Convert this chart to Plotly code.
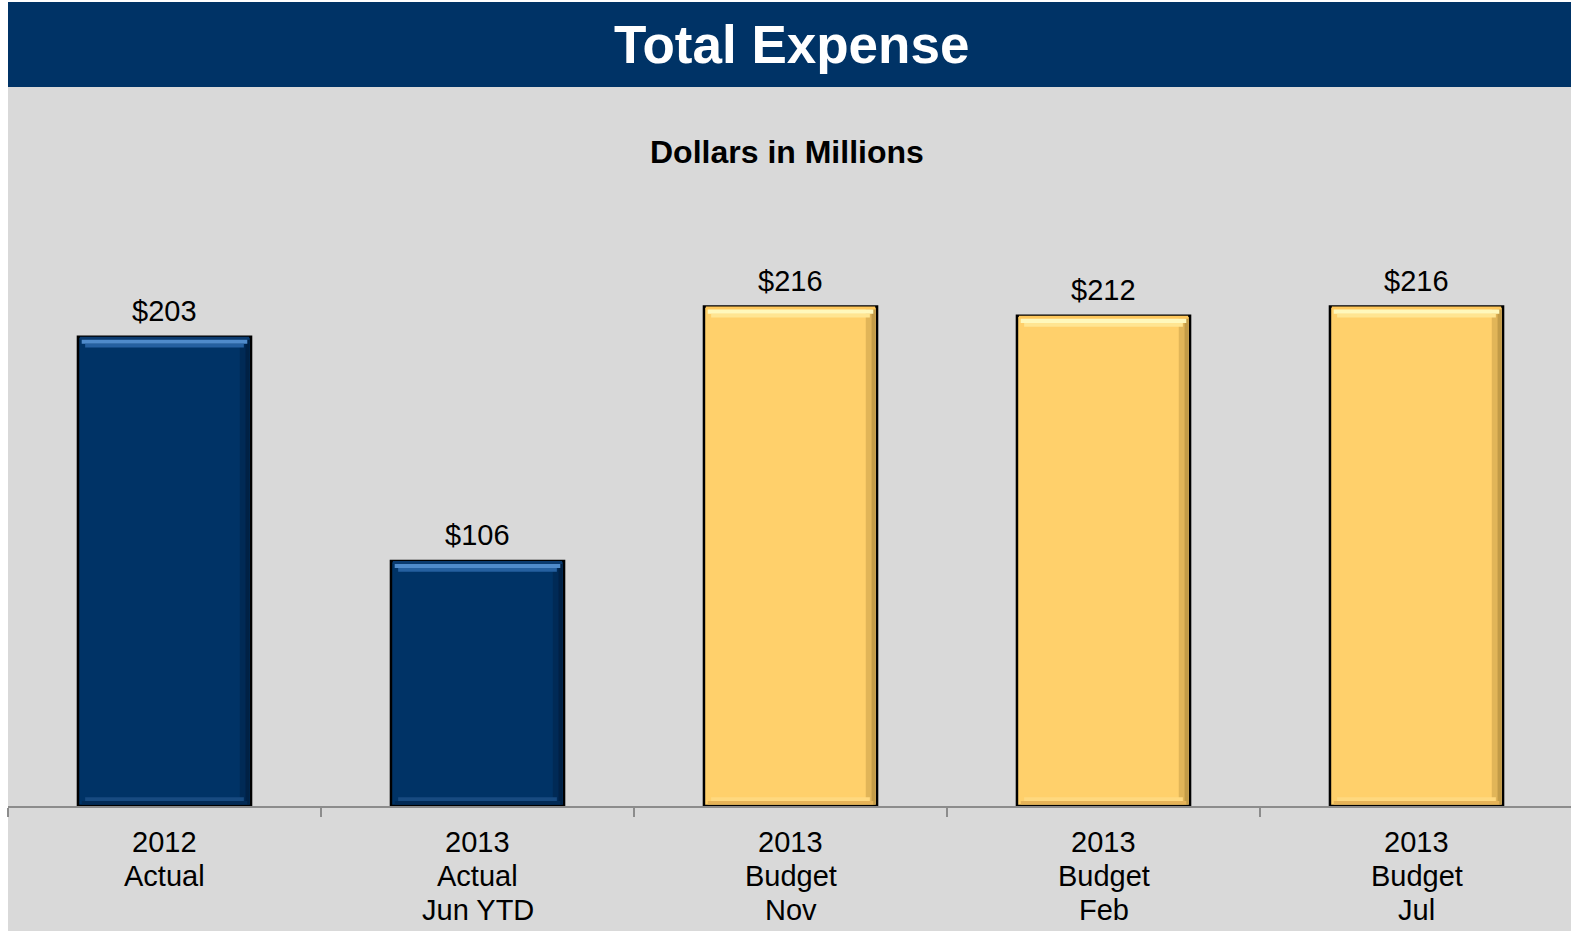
import plotly.graph_objects as go

# ---- data -------------------------------------------------------------
category_ids = ["2012 Actual", "2013 Actual Jun YTD", "2013 Budget Nov",
                "2013 Budget Feb", "2013 Budget Jul"]
label_lines = [
    ["2012", "Actual"],
    ["2013", "Actual", "Jun YTD"],
    ["2013", "Budget", "Nov"],
    ["2013", "Budget", "Feb"],
    ["2013", "Budget", "Jul"],
]
expense = [203, 106, 216, 212, 216]
kind = ["Actual", "Actual", "Budget", "Budget", "Budget"]

# ---- styling ----------------------------------------------------------
NAVY = "#003366"
PANEL = "#D9D9D9"
palette = {
    "Actual": {"fill": "#003366", "rim": "#0A3A6E", "hi": "#4F8BCB", "mid": "#2560A0",
               "low": "#174A80", "lowdark": "#022A55", "side": "#001A38"},
    "Budget": {"fill": "#FFD06B", "rim": "#FFC85C", "hi": "#FFF8BC", "mid": "#FFE592",
               "low": "#FFD97F", "lowdark": "#E6B358", "side": "#A88437"},
}


def colors(key):
    return [palette[k][key] for k in kind]


BAR_W = 0.553
INNER_W = BAR_W - 0.012
Y_MAX = 250
PLOT_TOP, PLOT_BOTTOM, FIG_H, FIG_W = 228, 806, 931, 1571
FONT = "Liberation Sans, Arial"


def py(px):
    """Pixel row -> paper y coordinate."""
    return (PLOT_BOTTOM - px) / (PLOT_BOTTOM - PLOT_TOP)


fig = go.Figure()


def band(y, base, width, color, offset=None, opacity=1.0):
    kw = dict(offset=offset) if offset is not None else {}
    fig.add_trace(go.Bar(
        x=category_ids, y=y, base=base, width=width,
        marker=dict(color=color, line=dict(width=0), opacity=opacity),
        hoverinfo="skip", showlegend=False, **kw,
    ))


# main bars
fig.add_trace(go.Bar(
    x=category_ids, y=expense, width=BAR_W,
    marker=dict(color=colors("fill"), line=dict(color="#000000", width=2.5)),
    hoverinfo="skip", showlegend=False,
))
n = len(expense)
# right-side shading (two strips, darker toward the edge)
band([v - 1.0 for v in expense], 0.6, 0.018, colors("side"),
     offset=BAR_W / 2 - 0.036, opacity=0.35)
band([v - 1.0 for v in expense], 0.6, 0.012, colors("side"),
     offset=BAR_W / 2 - 0.018, opacity=0.7)
# bevelled top edge
band([1.3] * n, [v - 1.3 for v in expense], INNER_W, colors("rim"))
band([1.8] * n, [v - 3.1 for v in expense], INNER_W - 0.012, colors("hi"))
band([1.6] * n, [v - 4.7 for v in expense], INNER_W - 0.034, colors("mid"))
# bevelled bottom edge
band([1.6] * n, 0.6, INNER_W - 0.012, colors("lowdark"))
band([1.6] * n, 2.2, INNER_W - 0.034, colors("low"))

annotations = []
# value labels
for c, v in zip(category_ids, expense):
    annotations.append(dict(
        x=c, y=v, xref="x", yref="y", text=f"${v}", showarrow=False,
        yanchor="middle", yshift=26,
        font=dict(family=FONT, size=29, color="#000000"),
    ))
# category labels, one annotation per line
line_rows = [842, 876, 910]
for c, lines in zip(category_ids, label_lines):
    for row, txt in zip(line_rows, lines):
        annotations.append(dict(
            x=c, y=py(row), xref="x", yref="paper", text=txt, showarrow=False,
            yanchor="middle",
            font=dict(family=FONT, size=29, color="#000000"),
        ))
# headings
annotations.append(dict(
    x=0.5, y=py(45), xref="paper", yref="paper", text="<b>Total Expense</b>",
    showarrow=False, yanchor="middle", xanchor="center", xshift=2,
    font=dict(family=FONT, size=53, color="#FFFFFF"),
))
annotations.append(dict(
    x=0.5, y=py(152), xref="paper", yref="paper", text="<b>Dollars in Millions</b>",
    showarrow=False, yanchor="middle", xanchor="center", xshift=-3,
    font=dict(family=FONT, size=32, color="#000000"),
))

shapes = [
    dict(type="rect", xref="paper", yref="paper", x0=0, x1=1.02,
         y0=py(FIG_H + 20), y1=py(87), fillcolor=PANEL, line=dict(width=0),
         layer="below"),
    dict(type="rect", xref="paper", yref="paper", x0=0, x1=1.02,
         y0=py(87), y1=py(2), fillcolor=NAVY, line=dict(width=0),
         layer="below"),
]

fig.update_layout(
    width=FIG_W, height=FIG_H,
    margin=dict(l=8, r=0, t=PLOT_TOP, b=FIG_H - PLOT_BOTTOM, pad=0),
    paper_bgcolor="#FFFFFF", plot_bgcolor="rgba(0,0,0,0)",
    barmode="overlay",
    annotations=annotations, shapes=shapes,
    font=dict(family=FONT),
)
fig.update_xaxes(
    type="category", range=[-0.5, 4.4936],
    showline=True, linecolor="#8C8C8C", linewidth=2,
    ticks="outside", tickson="boundaries", ticklen=9, tickwidth=2,
    tickcolor="#8C8C8C", showticklabels=False, showgrid=False, zeroline=False,
)
fig.update_yaxes(range=[0, Y_MAX], visible=False, showgrid=False, zeroline=False)

fig.write_html("out.html")
